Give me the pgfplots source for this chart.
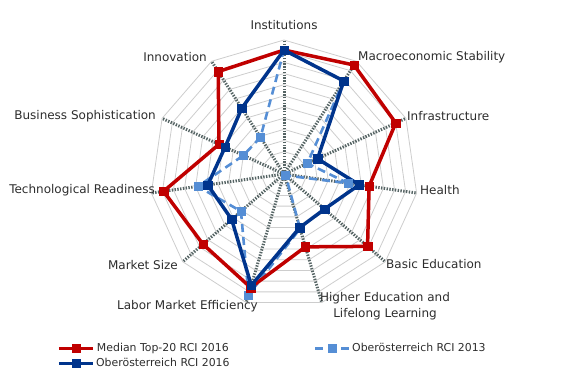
\documentclass[border=0pt]{standalone}
\usepackage{pgfplots}
\pgfplotsset{compat=1.18}
\usepackage{fontspec}
\setmainfont{DejaVu Sans}
\definecolor{cred}{RGB}{192,0,0}
\definecolor{cblue}{RGB}{0,52,140}
\definecolor{clight}{RGB}{85,142,213}
\definecolor{cspoke}{RGB}{85,100,100}
\definecolor{cring}{RGB}{205,205,205}
\definecolor{ctext}{RGB}{45,45,45}
\begin{document}
\begin{tikzpicture}
\useasboundingbox (0,0) rectangle (567bp,373bp);
\begin{axis}[
  at={(284bp,199bp)}, anchor=origin,
  x=11.1667bp, y=11.1667bp,
  xmin=-13, xmax=13, ymin=-13, ymax=13,
  hide axis, clip=false,
  legend columns=2,
  legend image code/.code={\draw[mark repeat=2,mark phase=2,#1] plot coordinates {(0bp,0bp) (17bp,0bp) (34bp,0bp)};},
  legend style={draw=none, fill=none, at={(axis cs:-20.6,-14.85)}, anchor=north west,
    font=\fontsize{10.9bp}{13bp}\selectfont, text=ctext,
    nodes={inner sep=1.5bp},
    /tikz/every even column/.append style={column sep=83bp},
    row sep=2.2bp},
]
% polygon grid rings
\pgfplotsinvokeforeach{1,...,12}{
\addplot[cring, line width=0.8bp, data cs=polar, forget plot] coordinates {(90,#1) (57.2727,#1) (24.5455,#1) (-8.1818,#1) (-40.9091,#1) (-73.6364,#1) (-106.3636,#1) (-139.0909,#1) (-171.8182,#1) (-204.5455,#1) (-237.2727,#1) (90,#1)};
}
% spokes
\pgfplotsinvokeforeach{90,57.2727,24.5455,-8.1818,-40.9091,-73.6364,-106.3636,-139.0909,-171.8182,-204.5455,-237.2727}{
\addplot[cspoke, line width=3bp, dash pattern=on 1.4bp off 1.4bp, data cs=polar, forget plot] coordinates {(#1,0) (#1,12)};
}
% Oberoesterreich RCI 2013
\addplot[clight, line width=2.6bp, dash pattern=on 8bp off 5bp, mark=square*, mark size=4bp, mark options={solid, line width=0.4bp}, data cs=polar, forget plot] coordinates {
(90,11.1) (57.2727,9.9) (24.5455,2.3) (-8.1818,5.8) (-40.9091,0.2) (-73.6364,5.1) (-106.3636,11.3) (-139.0909,5.1) (-171.8182,7.8) (-204.5455,4.0) (-237.2727,3.9) (-270,11.1)};
% Median Top-20 RCI 2016
\addplot[cred, line width=3.5bp, mark=square*, mark size=4.2bp, mark options={solid, line width=0.4bp}, data cs=polar, forget plot] coordinates {
(90,11.1) (57.2727,11.6) (24.5455,11.0) (-8.1818,7.7) (-40.9091,9.9) (-73.6364,6.8) (-106.3636,10.6) (-139.0909,9.6) (-171.8182,10.9) (-204.5455,6.4) (-237.2727,10.9) (-270,11.1)};
% Oberoesterreich RCI 2016
\addplot[cblue, line width=3.5bp, mark=square*, mark size=4.2bp, mark options={solid, line width=0.4bp}, data cs=polar, forget plot] coordinates {
(90,11.1) (57.2727,9.9) (24.5455,3.3) (-8.1818,6.8) (-40.9091,4.8) (-73.6364,5.0) (-106.3636,10.4) (-139.0909,6.2) (-171.8182,6.9) (-204.5455,5.8) (-237.2727,7.0) (-270,11.1)};
\addlegendimage{cred, line width=3.5bp, mark=square*, mark size=4.2bp, mark options={solid, line width=0.4bp}}
\addlegendentry{Median Top-20 RCI 2016}
\addlegendimage{clight, line width=2.6bp, dash pattern=on 8bp off 5bp, mark=square*, mark size=4bp, mark options={solid, line width=0.4bp}}
\addlegendentry{Oberösterreich RCI 2013}
\addlegendimage{cblue, line width=3.5bp, mark=square*, mark size=4.2bp, mark options={solid, line width=0.4bp}}
\addlegendentry{Oberösterreich RCI 2016}
\end{axis}
\begin{scope}[every node/.style={font=\fontsize{12bp}{15.5bp}\selectfont, text=ctext, inner sep=0pt}]
\node[anchor=center] at (284bp,348bp) {Institutions};
\node[anchor=west] at (358bp,316bp) {Macroeconomic Stability};
\node[anchor=west] at (407bp,257bp) {Infrastructure};
\node[anchor=west] at (420bp,183bp) {Health};
\node[anchor=west] at (386bp,109bp) {Basic Education};
\node[anchor=center, align=center] at (385bp,67bp) {Higher Education and\\Lifelong Learning};
\node[anchor=east] at (258bp,67bp) {Labor Market Efficiency};
\node[anchor=east] at (178bp,108bp) {Market Size};
\node[anchor=east] at (155bp,183bp) {Technological Readiness};
\node[anchor=east] at (156bp,257bp) {Business Sophistication};
\node[anchor=east] at (207bp,316bp) {Innovation};
\end{scope}
\end{tikzpicture}
\end{document}
